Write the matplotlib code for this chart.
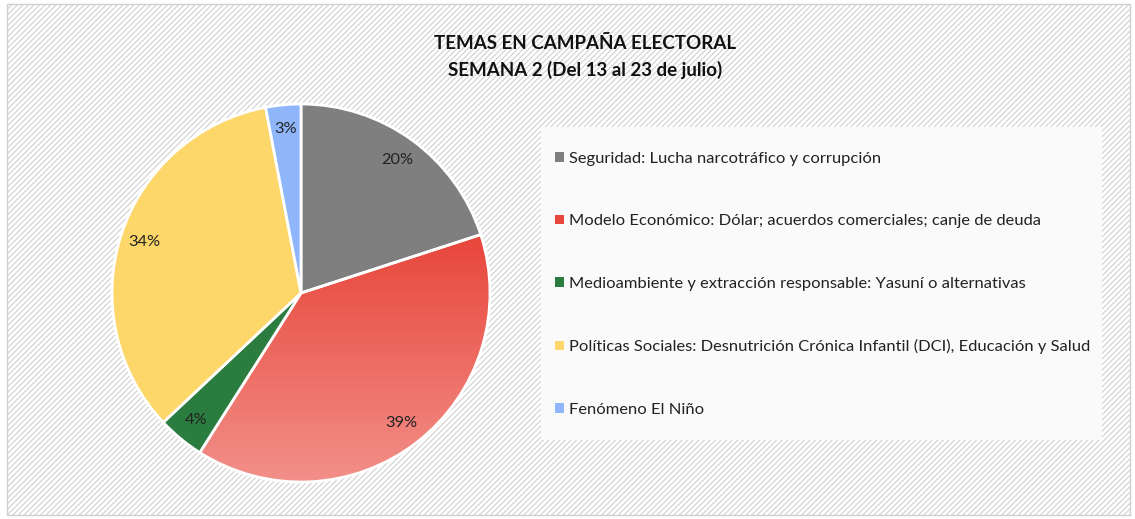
import numpy as np
import matplotlib.pyplot as plt
from matplotlib.patches import Rectangle, Patch
from matplotlib.colors import LinearSegmentedColormap

# datos
temas = [
    'Seguridad: Lucha narcotráfico y corrupción',
    'Modelo Económico: Dólar; acuerdos comerciales; canje de deuda',
    'Medioambiente y extracción responsable: Yasuní o alternativas',
    'Políticas Sociales: Desnutrición Crónica Infantil (DCI), Educación y Salud',
    'Fenómeno El Niño',
]
porcentajes = [20, 39, 4, 34, 3]
colores = ['#7F7F7F', '#E8473C', '#2A7D3F', '#FDD76A', '#8FB6FA']

plt.rcParams['font.family'] = ['Lato', 'DejaVu Sans']
plt.rcParams['hatch.color'] = '#EEEEEE'
plt.rcParams['hatch.linewidth'] = 0.8

W, H = 1135, 519
fig = plt.figure(figsize=(W / 100, H / 100), dpi=100)
fig.patch.set_facecolor('white')

# fondo rayado con borde
fig.add_artist(Rectangle((7 / W, 4 / H), 1123 / W, 511 / H, transform=fig.transFigure,
                         facecolor='white', edgecolor='#D0D0D0', hatch='//////', lw=1,
                         zorder=-2))

fig.text(585 / W, 1 - 57 / H, 'TEMAS EN CAMPAÑA ELECTORAL\nSEMANA 2 (Del 13 al 23 de julio)',
         ha='center', va='center', fontsize=13.5, fontweight='bold', linespacing=1.55,
         color='#111111')

cx, cy, r = 301, H - 293, 189
ax = fig.add_axes([(cx - r) / W, (cy - r) / H, 2 * r / W, 2 * r / H])
ax.set_aspect('equal')

wedges, textos, pcts = ax.pie(porcentajes, colors=colores, startangle=90, counterclock=False,
                              autopct='%d%%', pctdistance=0.87,
                              wedgeprops=dict(edgecolor='white', linewidth=2),
                              textprops=dict(fontsize=11.8, color='#222222'))

# degradado en la porción roja
cmap = LinearSegmentedColormap.from_list('rojo', ['#F29089', '#E8463B'])
grad = np.linspace(0, 1, 256).reshape(-1, 1)
img = ax.imshow(grad, cmap=cmap, extent=(-1, 1, -1, 0.3), origin='lower',
                aspect='auto', zorder=wedges[1].get_zorder() - 0.01)
img.set_clip_path(wedges[1])
wedges[1].set_facecolor('none')
ax.set_xlim(-1.0, 1.0)
ax.set_ylim(-1.0, 1.0)
ax.axis('off')
for t in pcts:
    t.set_zorder(5)

# leyenda
fig.add_artist(Rectangle((541 / W, 1 - 440 / H), 561 / W, 313 / H, transform=fig.transFigure,
                         facecolor='#FAFAFA', edgecolor='none', zorder=-1))
handles = [Patch(facecolor=c) for c in colores]
leg = fig.legend(handles, temas, loc='upper left', bbox_to_anchor=(555 / W, 1 - 152 / H),
                 frameon=False, fontsize=11.85, labelspacing=2.94, handlelength=0.53,
                 handleheight=0.53, handletextpad=0.33, borderaxespad=0, borderpad=0)
for t in leg.get_texts():
    t.set_color('#222222')

fig.savefig('out.png', dpi=100)
